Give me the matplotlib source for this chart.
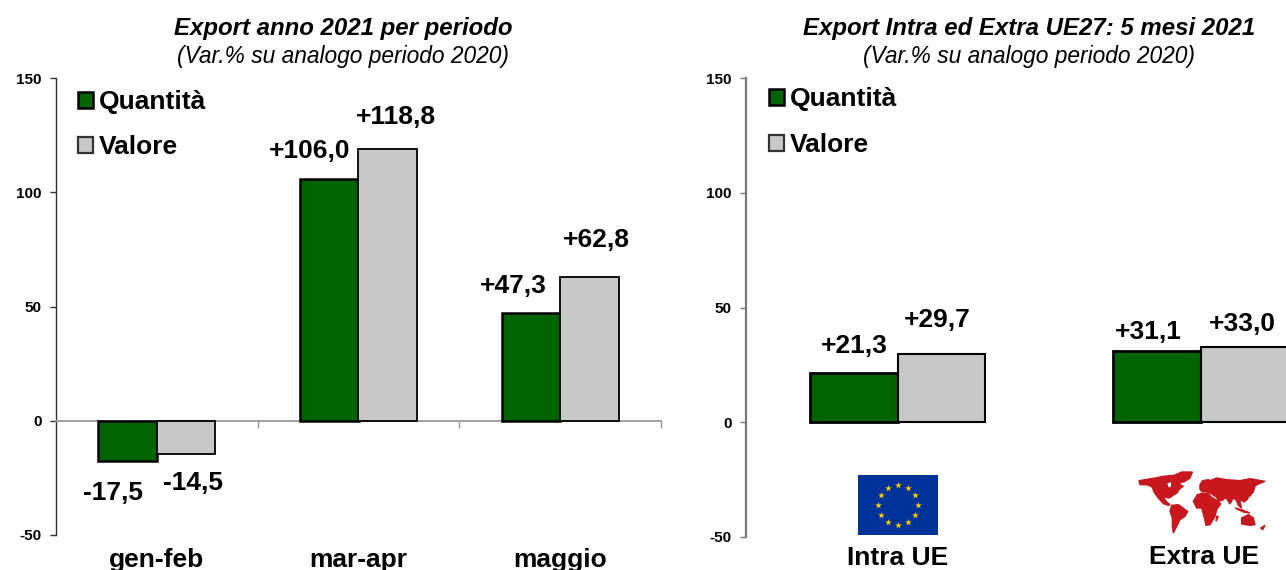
import numpy as np
import matplotlib
matplotlib.use("Agg")
import matplotlib.pyplot as plt
from matplotlib.patches import Patch, Polygon, Rectangle

plt.rcParams['font.family'] = ['Liberation Sans', 'DejaVu Sans']
plt.rcParams['axes.unicode_minus'] = False

W, H = 1286, 570

# Data
periods = ['gen-feb', 'mar-apr', 'maggio']
period_qty = [-17.5, 106.0, 47.3]
period_val = [-14.5, 118.8, 62.8]
areas = ['Intra UE', 'Extra UE']
area_qty = [21.3, 31.1]
area_val = [29.7, 33.0]
y_ticks = [-50, 0, 50, 100, 150]

GREEN = '#006400'
GREY = '#C8C8C8'
MAP_RED = '#C8181E'


def px_axes(fig, left, right, top, bottom):
    return fig.add_axes([left / W, 1 - bottom / H, (right - left) / W, (bottom - top) / H])


def label(ax, x, y, value, dx, dy, size=19):
    ax.annotate(f'{value:+.1f}'.replace('.', ','), xy=(x, y), xytext=(dx * 0.72, (dy - 2) * 0.72),
                textcoords='offset points', ha='center', va='center',
                fontsize=size, fontweight='bold', color='black')


def style_y(ax, color, lw):
    ax.set_ylim(-50, 150)
    ax.set_yticks(y_ticks)
    ax.tick_params(axis='y', length=4, width=1, color=color, pad=6.5)
    for t in ax.get_yticklabels():
        t.set_fontsize(11)
        t.set_fontweight('bold')
    ax.spines['top'].set_visible(False)
    ax.spines['right'].set_visible(False)
    ax.spines['left'].set_color(color)
    ax.spines['left'].set_linewidth(lw)


def legend(ax, anchor, spacing, size):
    ax.legend(handles=[Patch(facecolor=GREEN, edgecolor='black', linewidth=1.8, label='Quantità'),
                       Patch(facecolor=GREY, edgecolor='#333333', linewidth=1.6, label='Valore')],
              loc='upper left', bbox_to_anchor=anchor, bbox_transform=ax.figure.transFigure,
              frameon=False, handlelength=0.55, handleheight=0.55,
              handletextpad=0.23, labelspacing=spacing, borderpad=0, borderaxespad=0,
              prop={'weight': 'bold', 'size': size})


fig = plt.figure(figsize=(W / 100, H / 100), dpi=100, facecolor='white')

# Left panel: change by period
ax1 = px_axes(fig, 56, 661, 78, 535)
x1 = np.arange(len(periods))
bw1 = 0.29
ax1.bar(x1 - bw1 / 2, period_qty, bw1, color=GREEN, edgecolor='black', linewidth=1.8, zorder=3)
ax1.bar(x1 + bw1 / 2, period_val, bw1, color=GREY, edgecolor='black', linewidth=1.3, zorder=3)
ax1.set_xlim(-0.5, 2.5)
style_y(ax1, '#333333', 1.0)
ax1.spines['bottom'].set_position(('data', 0))
ax1.spines['bottom'].set_color('#999999')
ax1.spines['bottom'].set_linewidth(1.3)
ax1.set_xticks([0.5, 1.5, 2.5])
ax1.tick_params(axis='x', length=5, width=1, color='#999999', labelbottom=False)

qty_offsets = [(-14.5, 30), (-19.5, 29.5), (-17.5, 29)]
val_offsets = [(7, 27), (8, 34), (7, 39)]
for i in x1:
    q_top = period_qty[i]
    v_top = period_val[i]
    q_sign = 1 if q_top > 0 else -1
    v_sign = 1 if v_top > 0 else -1
    label(ax1, i - bw1 / 2, q_top, q_top, qty_offsets[i][0], qty_offsets[i][1] * q_sign)
    label(ax1, i + bw1 / 2, v_top, v_top, val_offsets[i][0], val_offsets[i][1] * v_sign)
    ax1.annotate(periods[i], xy=(i, 0), xycoords=ax1.get_xaxis_transform(),
                 xytext=(0, -24.5 * 0.72), textcoords='offset points', ha='center', va='center',
                 fontsize=19, fontweight='bold')

legend(ax1, (78 / W, 1 - 90 / H), 0.81, 19)

fig.text(343 / W, 1 - 29 / H, 'Export anno 2021 per periodo', ha='center', va='center',
         fontsize=17.3, fontweight='bold', fontstyle='italic')
fig.text(343 / W, 1 - 57 / H, '(Var.% su analogo periodo 2020)', ha='center', va='center',
         fontsize=16.4, fontstyle='italic')

# Right panel: change inside and outside the EU; the second group runs to the page edge
ax2 = px_axes(fig, 746, 1352, 78, 537)
x2 = np.arange(len(areas))
bw2 = 0.2875
ax2.bar(x2 - bw2 / 2, area_qty, bw2, color=GREEN, edgecolor='black', linewidth=2.0, zorder=3)
ax2.bar(x2 + bw2 / 2, area_val, bw2, color=GREY, edgecolor='black', linewidth=1.5, zorder=3)
ax2.set_xlim(-0.5, 1.5)
style_y(ax2, '#777777', 1.6)
ax2.spines['bottom'].set_visible(False)
ax2.set_xticks([])

qty_offsets2 = [(0, 29), (-8.5, 20.6)]
val_offsets2 = [(-3.5, 36), (-1.5, 25)]
name_offsets = [(0, -21), (4, -20)]
for i in x2:
    label(ax2, i - bw2 / 2, area_qty[i], area_qty[i], *qty_offsets2[i])
    label(ax2, i + bw2 / 2, area_val[i], area_val[i], *val_offsets2[i])
    ax2.annotate(areas[i], xy=(i, 0), xycoords=ax2.get_xaxis_transform(),
                 xytext=(name_offsets[i][0] * 0.72, name_offsets[i][1] * 0.72),
                 textcoords='offset points', ha='center', va='center',
                 fontsize=19, fontweight='bold', color='black')

legend(ax2, (769 / W, 1 - 87 / H), 0.85, 19)

fig.text(1029 / W, 1 - 29 / H, 'Export Intra ed Extra UE27: 5 mesi 2021', ha='center', va='center',
         fontsize=17.3, fontweight='bold', fontstyle='italic')
fig.text(1029 / W, 1 - 57 / H, '(Var.% su analogo periodo 2020)', ha='center', va='center',
         fontsize=16.4, fontstyle='italic')

# EU flag emblem
flag = px_axes(fig, 858, 938, 475, 535)
flag.set_xlim(-4, 4)
flag.set_ylim(-3, 3)
flag.axis('off')
flag.add_patch(Rectangle((-4, -3), 8, 6, facecolor='#003399', edgecolor='none'))
angles = np.deg2rad(np.arange(0, 360, 30))
flag.scatter(2 * np.cos(angles), 2 * np.sin(angles), marker='*', s=26, color='#FFCC00', linewidths=0)

# Simplified world map emblem; outlines are at triple scale, one tile per hemisphere
WEST_ORIGIN = (1135, 468)
EAST_ORIGIN = (1200, 468)
west = [
    [(12, 38), (30, 35), (60, 30), (85, 25), (115, 22), (125, 35), (135, 50), (145, 55), (132, 64),
     (127, 74), (114, 82), (106, 88), (100, 90), (90, 87), (88, 92), (95, 102), (105, 110), (100, 112),
     (85, 107), (70, 90), (58, 74), (52, 58), (42, 52), (30, 50), (15, 50)],
    [(118, 22), (140, 12), (172, 12), (165, 30), (150, 40), (135, 45), (125, 35)],
    [(110, 112), (130, 110), (158, 130), (150, 145), (135, 155), (125, 175), (115, 195), (112, 175),
     (112, 150), (105, 130)],
]
east = [
    [(0, 50), (8, 38), (25, 35), (30, 38), (50, 30), (80, 35), (120, 38), (150, 32), (195, 40), (175, 48),
     (165, 54), (160, 72), (148, 82), (142, 94), (132, 102), (122, 94), (120, 102), (125, 120), (115, 112),
     (108, 95), (100, 90), (90, 108), (80, 92), (68, 88), (72, 95), (55, 100), (50, 88), (35, 78), (20, 72),
     (5, 70), (0, 64)],
    [(-20, 100), (-8, 80), (10, 75), (25, 78), (35, 88), (55, 100), (62, 108), (50, 125), (45, 145),
     (30, 170), (18, 172), (12, 145), (5, 120), (-10, 120)],
    [(50, 145), (55, 145), (48, 160)],
    [(125, 150), (145, 140), (160, 150), (165, 170), (150, 172), (125, 168)],
    [(105, 120), (125, 125), (150, 135), (130, 132)],
    [(150, 70), (155, 75), (150, 85)],
    [(182, 180), (195, 172), (188, 185)],
]
hudson_bay = [(97, 47), (108, 42), (108, 56), (101, 58)]

world = fig.add_axes([0, 0, 1, 1])
world.set_xlim(0, W)
world.set_ylim(H, 0)
world.axis('off')


def place(outline, origin):
    return np.array(outline) / 3 + np.array(origin)


for outline in west:
    world.add_patch(Polygon(place(outline, WEST_ORIGIN), facecolor=MAP_RED, edgecolor=MAP_RED, linewidth=1.0))
for outline in east:
    world.add_patch(Polygon(place(outline, EAST_ORIGIN), facecolor=MAP_RED, edgecolor=MAP_RED, linewidth=1.0))
world.add_patch(Polygon(place(hudson_bay, WEST_ORIGIN), facecolor='white', edgecolor='none'))

fig.savefig('out.png', dpi=100)
